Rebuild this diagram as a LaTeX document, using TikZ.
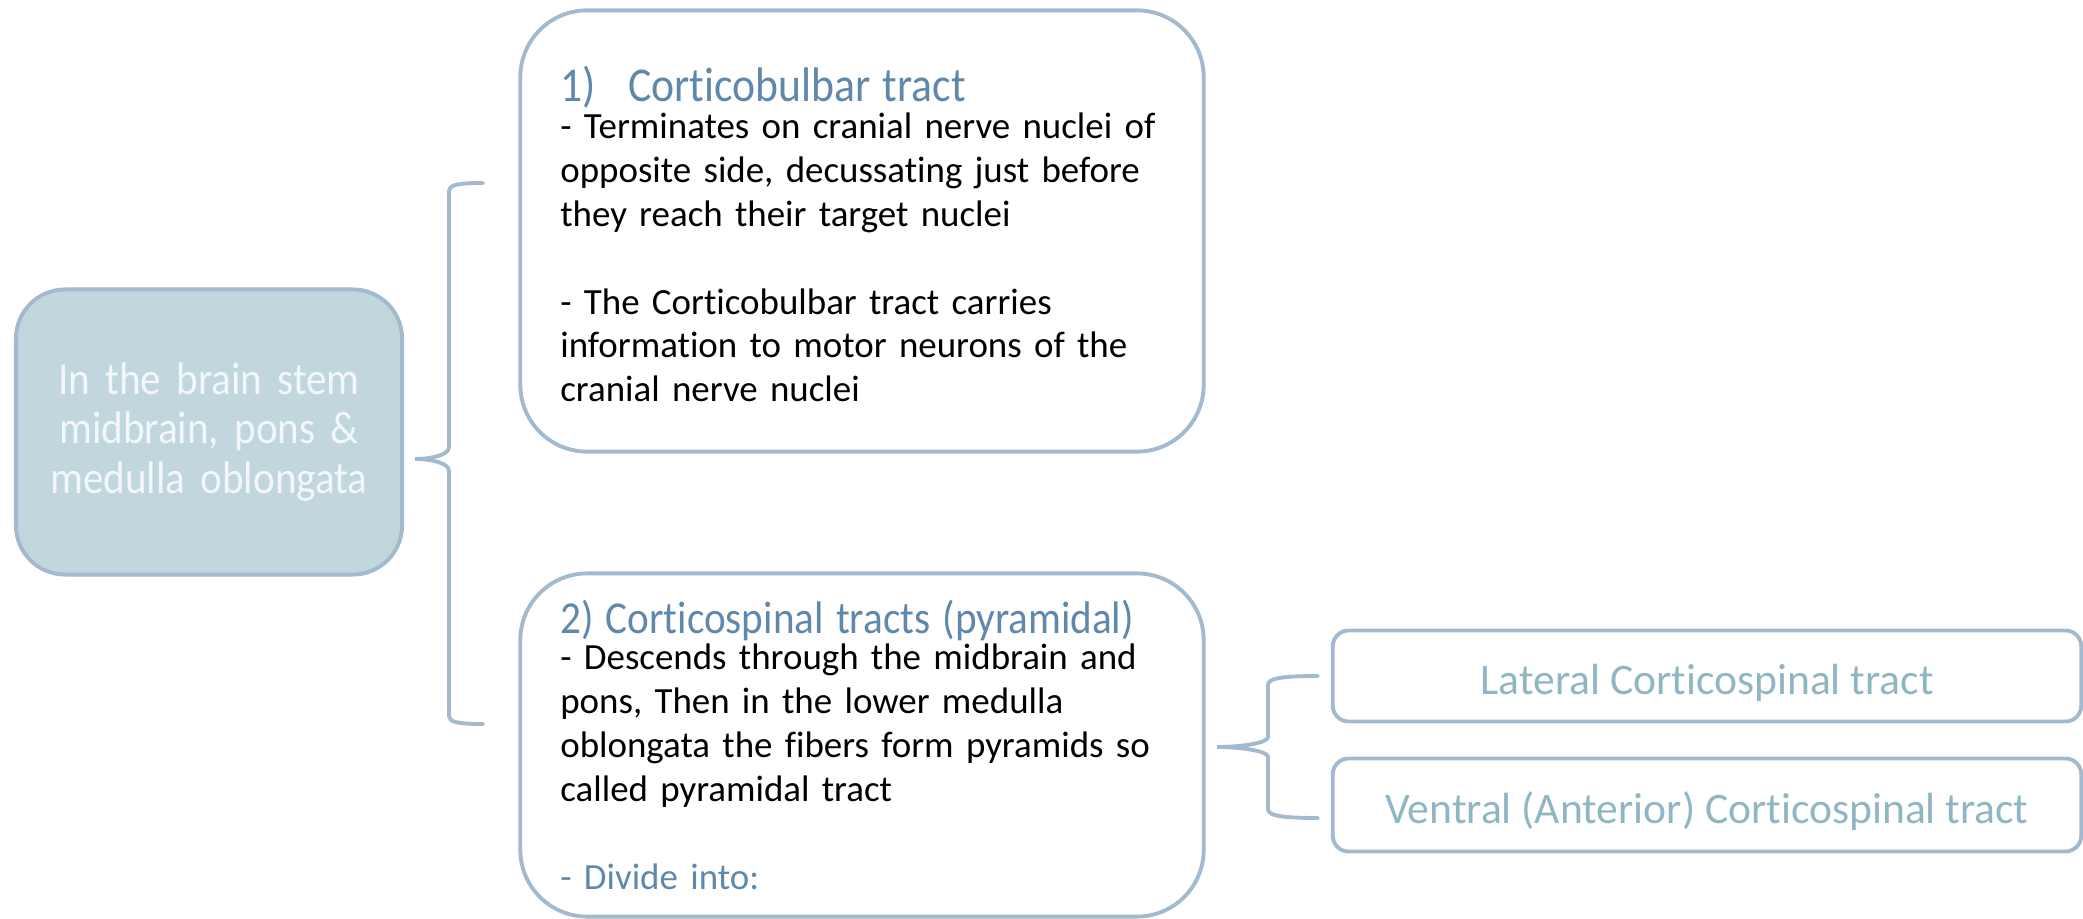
\documentclass[tikz,border=0pt]{standalone}
\usepackage{fontspec}
\setmainfont[Ligatures=NoCommon]{Carlito}
\newfontfamily\headfont[FakeStretch=0.9, Ligatures=NoCommon]{Carlito}
\usetikzlibrary{positioning, calc}
\definecolor{edgeblue} {RGB}{162,185,206}
\definecolor{stemfill} {RGB}{193,214,221}
\definecolor{stemtext} {RGB}{243,247,249}
\definecolor{headblue} {RGB}{96,136,172}
\definecolor{branchtxt}{RGB}{143,183,195}

\tikzset{
  card/.style={draw=edgeblue, line width=1.1pt, fill=white,
               inner xsep=0pt, inner ysep=0pt},
  tractbox/.style={card, rounded corners=19pt, minimum width=6.83cm,
               text width=6.03cm, align=left,
               font=\fontsize{10.5}{12.5}\selectfont},
  branchbox/.style={card, rounded corners=4.5pt, minimum width=7.48cm,
               align=center, text=branchtxt, text height=10.6pt, text depth=0pt,
               font=\fontsize{12.4}{14}\selectfont},
  bracket/.style={draw=edgeblue, line width=1.1pt, line cap=round},
}
\newcommand{\tracthead}[2]{{\headfont\fontsize{#1}{14}\selectfont\color{headblue}#2}}

\begin{document}
\begin{tikzpicture}[x=0.01cm, y=-0.01cm]
  \useasboundingbox (0,0) rectangle (2083,919);

  % left summary box
  \node[card, fill=stemfill, rounded corners=14pt, minimum width=3.86cm,
        minimum height=2.85cm, text width=3.86cm, align=center,
        text=stemtext, font=\headfont\fontsize{13}{14.2}\selectfont]
    (stem) at (209,432) {In the brain stem\\ midbrain, pons \&\\ medulla oblongata};

  % the two descending tracts
  \node[tractbox, minimum height=4.41cm, text height=12pt] (bulbar) at (862,231) {%
    \tracthead{13.8}{\makebox[0.68cm][l]{1)}Corticobulbar tract}\\[-2.2pt]
    - Terminates on cranial nerve nuclei of\\
    opposite side, decussating just before\\
    they reach their target nuclei\\[12.5pt]
    - The Corticobulbar tract carries\\
    information to motor neurons of the\\
    cranial nerve nuclei};
  \node[tractbox, minimum height=3.43cm] (spinal) at (862,745) {%
    \tracthead{13}{2) Corticospinal tracts (pyramidal)}\\[-2.2pt]
    - Descends through the midbrain and\\
    pons, Then in the lower medulla\\
    oblongata the fibers form pyramids so\\
    called pyramidal tract\\[12.5pt]
    {\color{headblue}- Divide into:}};

  % subdivisions of the corticospinal tract
  \node[branchbox, minimum height=0.91cm] (lateral) at (1707,676)
    {Lateral Corticospinal tract};
  \node[branchbox, minimum height=0.93cm] (ventral) at (1707,805)
    {Ventral (Anterior) Corticospinal tract};

  % brace from the summary box
  \coordinate (b1top) at (483,183);
  \coordinate (b1tip) at (415,459);
  \coordinate (b1bot) at (483,724);
  \draw[bracket] (b1top) .. controls +(-26,0) and +(0,-6) .. ($(b1top)+(-34,8)$)
    -- ($(b1tip)+(34,-12)$) .. controls +(0,8) and +(16,0) .. (b1tip)
    .. controls +(16,0) and +(0,-8) .. ($(b1tip)+(34,12)$)
    -- ($(b1bot)+(-34,-8)$) .. controls +(0,6) and +(-26,0) .. (b1bot);

  % brace from the corticospinal box
  \coordinate (b2top) at (1318,676);
  \coordinate (b2tip) at (1217,747);
  \coordinate (b2bot) at (1318,818);
  \draw[bracket] (b2top) .. controls +(-40,0) and +(0,-6) .. ($(b2top)+(-50,9)$)
    -- ($(b2tip)+(51,-10)$) .. controls +(0,6) and +(24,0) .. (b2tip)
    .. controls +(24,0) and +(0,-6) .. ($(b2tip)+(51,10)$)
    -- ($(b2bot)+(-50,-9)$) .. controls +(0,6) and +(-40,0) .. (b2bot);
\end{tikzpicture}
\end{document}
